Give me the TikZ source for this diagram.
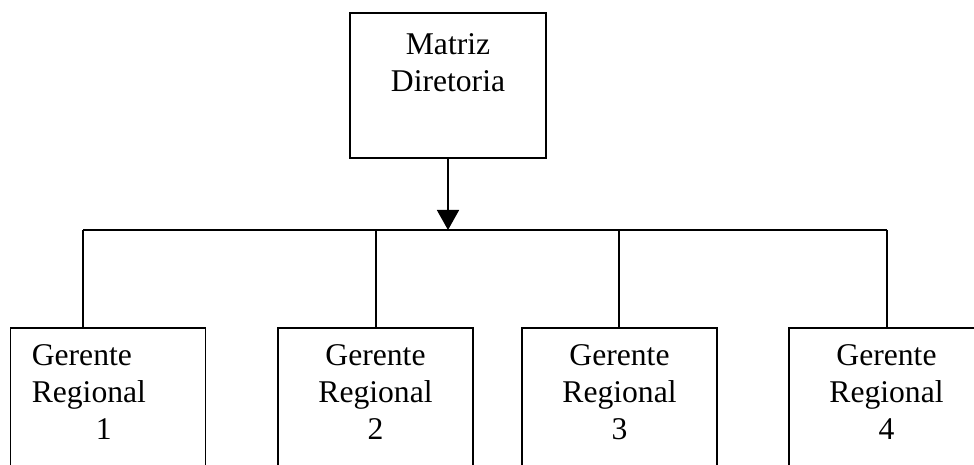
\documentclass[tikz,border=0pt]{standalone}
\usepackage{fontspec}
\setmainfont{Liberation Serif}
\usetikzlibrary{arrows.meta}
\begin{document}
\begin{tikzpicture}[>={Triangle[width=0.44cm,length=0.4cm]},line width=0.9pt,
 box/.style={draw,inner sep=0pt,anchor=north,minimum width=3.9cm,minimum height=3.2cm},
 txt/.style={inner sep=0pt,anchor=north,font=\fontsize{18}{21}\selectfont}]
 \useasboundingbox (0,0) rectangle (19.48,-9.3);
 \clip (0,0) rectangle (19.48,-9.3);
 % matriz
 \node[box,minimum width=3.92cm,minimum height=2.9cm] (dir) at (8.96,-0.24) {};
 \node[txt,align=center] (dirtxt) at (8.96,-0.66) {Matriz\\Diretoria};
 \coordinate (hl) at (1.66,-4.6);
 \coordinate (hr) at (17.74,-4.6);
 \draw (hl) -- (hr);
 \draw[->] (dir.south) -- (dir.south |- hl);
 % gerentes
 \foreach \i/\x/\c in {1/2.16/1.66,2/7.51/7.52,3/12.39/12.38,4/17.73/17.74}{
 \node[box] (g\i) at (\x,-6.54) {};
 \coordinate (t\i) at (\c,-4.6);
 \draw (t\i) -- (t\i |- g\i.north);
 }
 \node[txt,anchor=north west,align=left] (g1txt) at (0.62,-6.88) {Gerente\\Regional\\\hspace*{1.28cm}1};
 \foreach \i in {2,3,4}
 \node[txt,align=center] (g\i txt) at ([yshift=-0.34cm]g\i.north) {Gerente\\Regional\\\i};
\end{tikzpicture}
\end{document}
